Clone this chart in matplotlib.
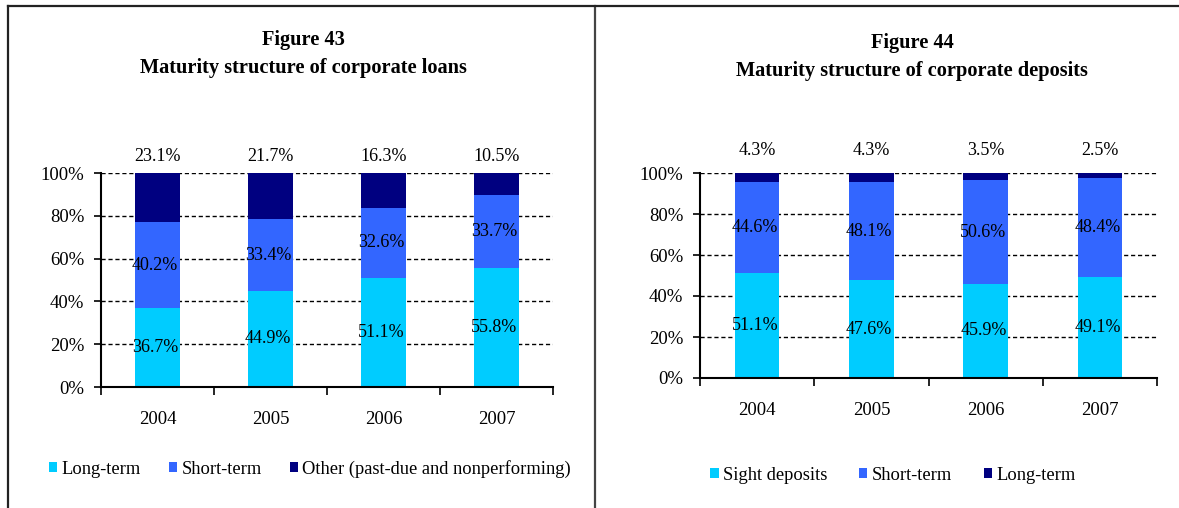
import numpy as np
import matplotlib
matplotlib.use('Agg')
import matplotlib.pyplot as plt
from matplotlib.lines import Line2D

plt.rcParams['font.family'] = ['Liberation Serif', 'DejaVu Serif']

years = ['2004', '2005', '2006', '2007']

# Figure 43 - loans
loans_long = [36.7, 44.9, 51.1, 55.8]
loans_short = [40.2, 33.4, 32.6, 33.7]
loans_other = [23.1, 21.7, 16.3, 10.5]
loans_names = ['Long-term', 'Short-term', 'Other (past-due and nonperforming)']

# Figure 44 - deposits
dep_sight = [51.1, 47.6, 45.9, 49.1]
dep_short = [44.6, 48.1, 50.6, 48.4]
dep_long = [4.3, 4.3, 3.5, 2.5]
dep_names = ['Sight deposits', 'Short-term', 'Long-term']

colors = ['#00CCFF', '#3366FF', '#000080']


def draw_panel(ax, series, names, top_y):
    x = np.arange(len(years))
    ax.set_axisbelow(True)
    ax.yaxis.grid(True, linestyle=(0, (3, 2)), color='black', linewidth=1)
    bottom = np.zeros(len(years))
    for i, (vals, name) in enumerate(zip(series, names)):
        vals = np.array(vals)
        ax.bar(x, vals, 0.39, bottom=bottom, color=colors[i], label=name, zorder=2)
        for xi, b, v in zip(x, bottom, vals):
            if i < 2:
                ax.text(xi - 0.02, b + v / 2, f'{v:.1f}%', ha='center', va='center',
                        fontsize=13, zorder=3)
            else:
                # last series label sits above the bar
                ax.text(xi, top_y, f'{v:.1f}%', ha='center', va='center',
                        fontsize=13, clip_on=False)
        bottom = bottom + vals
    ax.set_xlim(-0.5, len(years) - 0.5)
    ax.set_ylim(0, 100)
    ax.set_yticks(range(0, 101, 20))
    ax.set_yticklabels([f'{v}%' for v in range(0, 101, 20)], fontsize=13.5)
    ax.set_xticks(x)
    ax.set_xticklabels(years, fontsize=13.5)
    ax.tick_params(axis='x', length=0, pad=17)
    ax.tick_params(axis='y', length=5, width=1.2, pad=7)
    # category boundary ticks
    ax.set_xticks(np.arange(-0.5, len(years)), minor=True)
    ax.tick_params(axis='x', which='minor', length=6, width=1.2, direction='out')
    for s in ['top', 'right']:
        ax.spines[s].set_visible(False)
    for s in ['left', 'bottom']:
        ax.spines[s].set_linewidth(1.5)


fig = plt.figure(figsize=(11.79, 5.08), dpi=100)

# panel borders
fig.add_artist(Line2D([8 / 1179, 8 / 1179], [0, 1 - 6 / 508], color='#222222', lw=1.6))
fig.add_artist(Line2D([595 / 1179, 595 / 1179], [0, 1 - 6 / 508], color='#444444', lw=1.6))
fig.add_artist(Line2D([8 / 1179, 1], [1 - 6 / 508, 1 - 6 / 508], color='#222222', lw=1.6))

ax1 = fig.add_axes([101 / 1179, 1 - 387 / 508, 452 / 1179, 214 / 508])
draw_panel(ax1, [loans_long, loans_short, loans_other], loans_names, 107.5)
ax2 = fig.add_axes([700 / 1179, 1 - 378 / 508, 457 / 1179, 205 / 508])
draw_panel(ax2, [dep_sight, dep_short, dep_long], dep_names, 111.0)

title_kw = dict(ha='center', va='center', fontsize=14.7, fontweight='bold')
fig.text(303 / 1179, 1 - 40 / 508, 'Figure 43', **title_kw)
fig.text(303 / 1179, 1 - 68 / 508, 'Maturity structure of corporate loans', **title_kw)
fig.text(912 / 1179, 1 - 43 / 508, 'Figure 44', **title_kw)
fig.text(912 / 1179, 1 - 71 / 508, 'Maturity structure of corporate deposits', **title_kw)

leg_kw = dict(ncol=3, frameon=False, fontsize=13.3, handlelength=0.45, handleheight=0.45,
              handletextpad=0.25, loc='center', borderpad=0, borderaxespad=0)
ax1.legend(bbox_to_anchor=(310 / 1179, 1 - 469 / 508), bbox_transform=fig.transFigure,
           columnspacing=1.5, **leg_kw)
ax2.legend(bbox_to_anchor=(893 / 1179, 1 - 475 / 508), bbox_transform=fig.transFigure,
           columnspacing=1.7, **leg_kw)

fig.savefig('out.png', dpi=100)
